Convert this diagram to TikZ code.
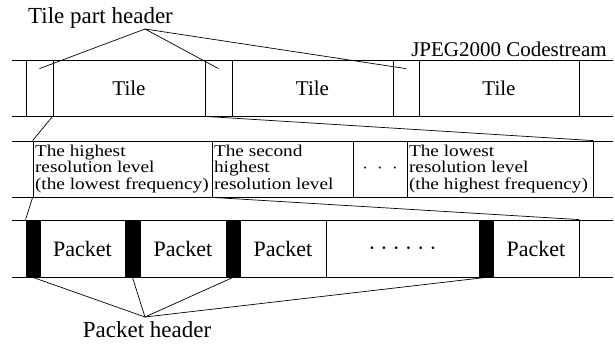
\documentclass[tikz,border=0pt]{standalone}
\usepackage{fontspec}
\setmainfont{Liberation Serif}
\newcommand{\midtext}[1]{\scalebox{1.17}[1]{\fontsize{16.5}{16.5}\selectfont\begin{tabular}{@{}l@{}}#1\end{tabular}}}
\begin{document}
\begin{tikzpicture}[x=1pt,y=-1pt,line width=0.8pt,
  topcell/.style={draw,rectangle,inner sep=0pt,minimum height=56pt,font=\fontsize{21}{21}\selectfont},
  midcell/.style={draw,rectangle,inner sep=0pt,minimum height=56pt},
  midtxt/.style={inner sep=0pt,anchor=west},
  botcell/.style={draw,rectangle,inner sep=0pt,minimum height=57pt,font=\fontsize{22}{22}\selectfont},
  hdrbar/.style={botcell,fill=black},
  title/.style={font=\fontsize{23}{23}\selectfont,inner sep=0pt},
  link/.style={line width=0.7pt}]
\useasboundingbox (0,0) rectangle (615,343);
% row lines
\draw (12,60) -- (613,60) (12,116) -- (613,116);
\draw (12,141) -- (613,141) (12,197) -- (613,197);
\draw (12,220) -- (613,220) (12,277) -- (613,277);
% top row
\node[topcell,minimum width=27pt] (tph1) at (39.5,88) {};
\node[topcell,minimum width=152pt] (tile1) at (129,88) {Tile};
\node[topcell,minimum width=27pt] (tph2) at (218.5,88) {};
\node[topcell,minimum width=161pt] (tile2) at (312.5,88) {Tile};
\node[topcell,minimum width=26pt] (tph3) at (406,88) {};
\node[topcell,minimum width=160pt] (tile3) at (499,88) {Tile};
% middle row
\node[midcell,minimum width=179pt] (r1) at (122.5,169) {};
\node[midcell,minimum width=141pt] (r2) at (282.5,169) {};
\node[midcell,minimum width=54pt,font=\fontsize{16.5}{16.5}\selectfont] (rdots) at (380,169) {\raisebox{-4.5pt}[0pt][0pt]{·\hspace{9.4pt}·\hspace{9.4pt}·}};
\node[midcell,minimum width=186pt] (r3) at (500,169) {};
\node[midtxt] (t1) at ([xshift=2pt,yshift=-0.5pt]r1.west) {\midtext{The highest\\resolution level\\(the lowest frequency)}};
\node[midtxt] (t2) at ([xshift=2pt,yshift=-0.5pt]r2.west) {\midtext{The second\\highest\\resolution level}};
\node[midtxt] (t3) at ([xshift=2pt,yshift=-0.5pt]r3.west) {\midtext{The lowest\\resolution level\\(the highest frequency)}};
% bottom row
\node[hdrbar,minimum width=14pt] (ph1) at (33,248.5) {};
\node[botcell,minimum width=85pt] (p1) at (82.5,248.5) {Packet};
\node[hdrbar,minimum width=15pt] (ph2) at (132.5,248.5) {};
\node[botcell,minimum width=86pt] (p2) at (183,248.5) {Packet};
\node[hdrbar,minimum width=14pt] (ph3) at (233,248.5) {};
\node[botcell,minimum width=86pt] (p3) at (283,248.5) {Packet};
\node[botcell,minimum width=153pt] (pdots) at (402.5,248.5) {\raisebox{-7pt}[0pt][0pt]{·\hspace{4.9pt}·\hspace{4.9pt}·\hspace{4.9pt}·\hspace{4.9pt}·\hspace{4.9pt}·}};
\node[hdrbar,minimum width=14pt] (ph4) at (486,248.5) {};
\node[botcell,minimum width=86pt] (p4) at (536,248.5) {Packet};
% labels
\node[title] (tphlabel) at (100.5,18) {Tile part header};
\coordinate (tphpt) at (145,29);
\node[font=\fontsize{21}{21}\selectfont,inner sep=0pt] (cslabel) at (509,49) {JPEG2000 Codestream};
\node[title] (phlabel) at (147,330) {Packet header};
\coordinate (phpt) at (145,317);
% connectors
\draw[link] (tphpt) -- ([yshift=-9pt]tph1.north);
\draw[link] (tphpt) -- ([yshift=-9pt]tph2.north);
\draw[link] (tphpt) -- ([yshift=-9pt]tph3.north);
\draw[link] (tile1.south west) -- (r1.north west);
\draw[link] (tile1.south east) -- (r3.north east);
\draw[link] (r1.south west) -- (ph1.north west);
\draw[link] (r1.south east) -- (p4.north east);
\draw[link] (phpt) -- (ph1.south);
\draw[link] (phpt) -- (ph2.south);
\draw[link] (phpt) -- (ph3.south);
\draw[link] (phpt) -- (ph4.south);
\end{tikzpicture}
\end{document}
